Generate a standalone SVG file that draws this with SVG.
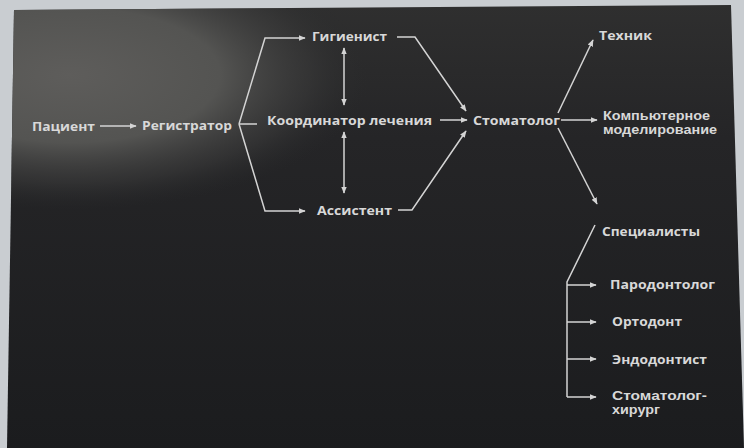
<svg xmlns="http://www.w3.org/2000/svg" width="744" height="448" viewBox="0 0 744 448">
<defs>
<radialGradient id="glow" cx="70" cy="75" r="300" gradientUnits="userSpaceOnUse" gradientTransform="translate(70 75) scale(1 0.45) translate(-70 -75)">
<stop offset="0" stop-color="#5e5d5b"/>
<stop offset="0.5" stop-color="#545452"/>
<stop offset="0.8" stop-color="#3a3a3a" stop-opacity="0.6"/>
<stop offset="1" stop-color="#2a2b2c" stop-opacity="0"/>
</radialGradient>
<linearGradient id="vert" x1="0" y1="0" x2="0" y2="1">
<stop offset="0" stop-color="#2f2f2f"/>
<stop offset="0.3" stop-color="#252527"/>
<stop offset="1" stop-color="#1b1c1e"/>
</linearGradient>
<marker id="ah" viewBox="0 0 10 10" refX="9" refY="5" markerWidth="7" markerHeight="7" markerUnits="userSpaceOnUse" orient="auto-start-reverse">
<path d="M0 1 L10 5 L0 9 Z" fill="#d4d4d4"/>
</marker>
<style>
.t{font-family:"Open Sans","Liberation Sans",sans-serif;font-weight:bold;font-size:12.5px;fill:#d8d8d8}
.s{font-family:"Liberation Sans",Arial,sans-serif;font-size:12px}
.c{fill:none;stroke:#d4d4d4;stroke-width:1.5}
.a{marker-end:url(#ah)}
.d{marker-start:url(#ah);marker-end:url(#ah)}
</style>
</defs>
<rect x="0" y="0" width="744" height="448" fill="#c9cdd1"/>
<polygon points="14,10 731,5 744,448 7,448" fill="url(#vert)"/>
<polygon points="14,10 731,5 744,448 7,448" fill="url(#glow)"/>

<g id="connectors">
<path class="c a" d="M100 126 L136 126"/>
<path class="c a" d="M239 124 L265 38 L305 38"/>
<path class="c a" d="M239 124 L265 211 L305 211"/>
<path class="c" d="M239 124 L257 124"/>
<path class="c a" d="M397 37 L415 37 L466 111"/>
<path class="c a" d="M440 120 L467 120"/>
<path class="c a" d="M398 210 L412 210 L466 131"/>
<path class="c d" d="M344 48 L344 105"/>
<path class="c d" d="M344 132 L344 193"/>
<path class="c a" d="M558 113 L593 40"/>
<path class="c a" d="M561 120 L597 120"/>
<path class="c a" d="M558 128 L597 204"/>
<path class="c" d="M595 225 L567 282 L567 397"/>
<path class="c a" d="M567 285 L596 285"/>
<path class="c a" d="M567 322 L596 322"/>
<path class="c a" d="M567 359 L596 359"/>
<path class="c a" d="M567 397 L596 397"/>
</g>

<g id="n-pacient"><text class="t" x="32" y="131" textLength="63" lengthAdjust="spacingAndGlyphs">Пациент</text></g>
<g id="n-registrator"><text class="t" x="142" y="130" textLength="90" lengthAdjust="spacingAndGlyphs">Регистратор</text></g>
<g id="n-gigienist"><text class="t" x="312" y="41" textLength="75" lengthAdjust="spacingAndGlyphs">Гигиенист</text></g>
<g id="n-koordinator"><text class="t" x="267" y="125" textLength="165" lengthAdjust="spacingAndGlyphs">Координатор лечения</text></g>
<g id="n-assistent"><text class="t" x="317" y="215" textLength="75" lengthAdjust="spacingAndGlyphs">Ассистент</text></g>
<g id="n-stomatolog"><text class="t" x="473" y="125" textLength="87" lengthAdjust="spacingAndGlyphs">Стоматолог</text></g>
<g id="n-tehnik"><text class="t" x="599" y="40" textLength="53" lengthAdjust="spacingAndGlyphs">Техник</text></g>
<g id="n-komp"><text class="t s" x="603" y="120" textLength="107" lengthAdjust="spacingAndGlyphs">Компьютерное</text><text class="t s" x="603" y="134" textLength="114" lengthAdjust="spacingAndGlyphs">моделирование</text></g>
<g id="n-specialisty"><text class="t" x="602" y="236" textLength="98" lengthAdjust="spacingAndGlyphs">Специалисты</text></g>
<g id="n-parodontolog"><text class="t" x="610" y="289" textLength="105" lengthAdjust="spacingAndGlyphs">Пародонтолог</text></g>
<g id="n-ortodont"><text class="t" x="612" y="326" textLength="70" lengthAdjust="spacingAndGlyphs">Ортодонт</text></g>
<g id="n-endodontist"><text class="t" x="612" y="364" textLength="95" lengthAdjust="spacingAndGlyphs">Эндодонтист</text></g>
<g id="n-hirurg"><text class="t s" x="612" y="400" textLength="95" lengthAdjust="spacingAndGlyphs">Стоматолог-</text><text class="t s" x="612" y="414" textLength="48" lengthAdjust="spacingAndGlyphs">хирург</text></g>
</svg>
